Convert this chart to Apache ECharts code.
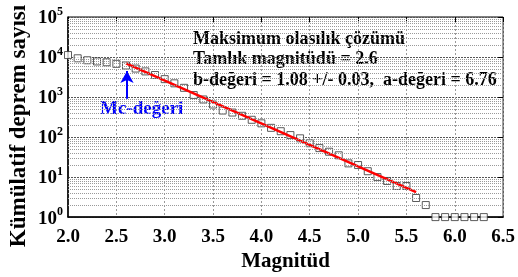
<html>
<head>
<meta charset="utf-8">
<script src="https://cdn.jsdelivr.net/npm/echarts@6/dist/echarts.min.js"></script>
</head>
<body>
<style>
  html, body, #main { width: 518px; height: 277px; margin: 0; background: #fff; }
</style>
<div id="main"></div>
<script>
// magnitude bins and cumulative counts
var magnitudes = [2.0, 2.1, 2.2, 2.3, 2.4, 2.5, 2.6, 2.7, 2.8, 2.9, 3.0, 3.1, 3.2, 3.3, 3.4, 3.5, 3.6, 3.7, 3.8, 3.9,
                  4.0, 4.1, 4.2, 4.3, 4.4, 4.5, 4.6, 4.7, 4.8, 4.9, 5.0, 5.1, 5.2, 5.3, 5.4, 5.5, 5.6, 5.7, 5.8, 5.9,
                  6.0, 6.1, 6.2, 6.3];
var counts = [11200, 9300, 8300, 7750, 7400, 6750, 6150, 5150, 4370, 3550, 2800, 2200, 1700, 1120, 870, 650, 460, 410, 340, 270,
              220, 170, 140, 112, 93, 70, 53, 43, 35, 22, 20, 14, 10, 8, 6, 6, 3, 2, 1, 1,
              1, 1, 1, 1];
// fitted Gutenberg-Richter line endpoints (Mc = 2.6 .. 5.6)
var fitLine = [[2.6, 6900], [5.6, 4.2]];
var mcArrow = [[2.61, 900], [2.61, 4500]];
var xTicks = [2.0, 6.5, 0.5];
var minorGrid = [];
for (var n = 0; n < 5; n++) {
  for (var k = 2; k < 10; k++) minorGrid.push(k * Math.pow(10, n));
}

var serif = '"Liberation Serif", "DejaVu Serif", serif';
var chart = echarts.init(document.getElementById('main'), null, { renderer: 'canvas' });
var pts = magnitudes.map(function (m, i) { return [m, counts[i]]; });

var option = {
  animation: false,
  grid: { left: 68, right: 13, top: 17, bottom: 57, show: true, borderColor: '#000', borderWidth: 1 },
  xAxis: [{
    type: 'value', min: xTicks[0], max: xTicks[1], interval: xTicks[2],
    name: 'Magnitüd', nameLocation: 'middle', nameGap: 31,
    nameTextStyle: { fontFamily: serif, fontWeight: 'bold', fontSize: 21, color: '#000' },
    axisLine: { lineStyle: { color: '#000', width: 1.5 } },
    axisTick: { show: false },
    axisLabel: { fontFamily: serif, fontWeight: 'bold', fontSize: 19, color: '#000', margin: 10,
      formatter: function (v) { return v.toFixed(1); } },
    splitLine: { show: true, lineStyle: { color: '#999', type: [2, 2], width: 1 } }
  }, {
    type: 'value', position: 'top', min: xTicks[0], max: xTicks[1], interval: xTicks[2],
    axisLine: { show: false }, axisLabel: { show: false }, splitLine: { show: false },
    axisTick: { show: true, inside: true, length: 5, lineStyle: { color: '#000' } }
  }],
  yAxis: [{
    type: 'log', logBase: 10, min: 1, max: 100000,
    axisLine: { show: true, lineStyle: { color: '#000', width: 1.5 } },
    axisTick: { show: false },
    axisLabel: {
      margin: 5,
      formatter: function (v) { return '{b|10}{e|' + Math.round(Math.log10(v)) + '}'; },
      rich: {
        b: { fontFamily: serif, fontWeight: 'bold', fontSize: 19, color: '#000', lineHeight: 22, verticalAlign: 'bottom' },
        e: { fontFamily: serif, fontWeight: 'bold', fontSize: 12, color: '#000', lineHeight: 22, verticalAlign: 'top' }
      }
    },
    splitLine: { show: true, lineStyle: { color: '#555', type: [2, 1], width: 1 } }
  }, {
    type: 'log', logBase: 10, min: 1, max: 100000, position: 'right',
    axisLine: { show: false }, axisLabel: { show: false }, splitLine: { show: false },
    axisTick: { show: true, inside: true, length: 5, lineStyle: { color: '#000' } }
  }],
  series: [{
    type: 'line', data: [], silent: true,
    markLine: {
      silent: true, symbol: 'none', animation: false, label: { show: false },
      lineStyle: { color: '#999', type: [1, 1], width: 1 },
      data: minorGrid.map(function (v) { return { yAxis: v }; })
    }
  }, {
    type: 'scatter', data: pts, symbol: 'rect', symbolSize: 7, silent: true, z: 3,
    itemStyle: { color: '#fff', borderColor: '#333', borderWidth: 1 }
  }, {
    type: 'line', data: fitLine, showSymbol: false, silent: true, z: 4,
    lineStyle: { color: '#ff0000', width: 2.5 }
  }, {
    type: 'line', data: [], silent: true,
    markLine: {
      silent: true, symbol: ['none', 'arrow'], symbolSize: [10, 12], label: { show: false },
      lineStyle: { color: '#0000ff', width: 2, type: 'solid' },
      data: [[{ coord: mcArrow[0] }, { coord: mcArrow[1] }]]
    }
  }],
  graphic: [{
    type: 'text', left: 193, top: 29,
    style: { text: 'Maksimum olasılık çözümü\nTamlık magnitüdü = 2.6\nb-değeri = 1.08 +/- 0.03,  a-değeri = 6.76',
      font: 'bold 18px ' + serif, fill: '#000', lineHeight: 20.5 }
  }, {
    type: 'text', left: 100, top: 100,
    style: { text: 'Mc-değeri', font: 'bold 19px ' + serif, fill: '#0000ff' }
  }, {
    type: 'text', x: 19, y: 126, rotation: Math.PI / 2,
    style: { text: 'Kümülatif deprem sayısı', font: 'bold 23px ' + serif, fill: '#000',
      align: 'center', verticalAlign: 'middle' }
  }]
};
chart.setOption(option);
</script>
</body>
</html>
